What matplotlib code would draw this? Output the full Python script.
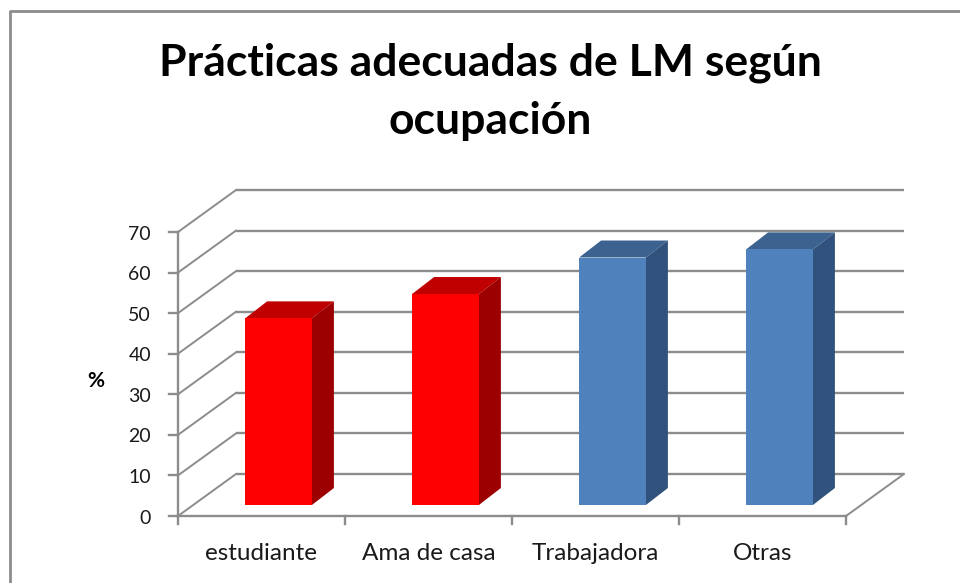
import matplotlib
matplotlib.use('Agg')
import matplotlib.pyplot as plt
from matplotlib.patches import Polygon
from matplotlib.transforms import Affine2D

categories = ['estudiante', 'Ama de casa', 'Trabajadora', 'Otras']
values = [46, 52, 61, 63]
yticks = [0, 10, 20, 30, 40, 50, 60, 70]

plt.rcParams['font.family'] = ['Lato', 'DejaVu Sans']

W, H = 960, 583
fig = plt.figure(figsize=(W / 100, H / 100), dpi=100)
# front plane of the fake 3d box, in pixels: x 178-846, y 516-232
ax = fig.add_axes([178 / W, 1 - 516 / H, (846 - 178) / W, (516 - 232) / H])
ax.set_xlim(0, 4)
ax.set_ylim(0, 70)
ax.axis('off')

# pixel offsets into the depth of the box
wall = ax.transData + Affine2D().translate(58, 42)
bar_base = ax.transData + Affine2D().translate(17, 11)
bar_back = ax.transData + Affine2D().translate(39, 28)

grey = '#8c8c8c'

# back wall grid and diagonals
for g in yticks:
    ax.plot([0, 4], [g, g], transform=wall, color=grey, lw=1.7, clip_on=False, zorder=1,
            solid_capstyle='butt')
    a = ax.transData.transform((0, g))
    b = wall.transform((0, g))
    ax.plot([a[0], b[0]], [a[1], b[1]], transform=None, color=grey, lw=1.4, clip_on=False, zorder=1)
# right edge of the floor
a = ax.transData.transform((4, 0))
b = wall.transform((4, 0))
ax.plot([a[0], b[0]], [a[1], b[1]], transform=None, color=grey, lw=1.4, clip_on=False, zorder=1)

# axes lines and ticks
ax.plot([0, 0], [0, 70], color=grey, lw=1.7, clip_on=False, zorder=2)
ax.plot([0, 4], [0, 0], color=grey, lw=1.7, clip_on=False, zorder=2)
for t in yticks:
    a = ax.transData.transform((0, t))
    ax.plot([a[0] - 9, a[0]], [a[1], a[1]], transform=None, color=grey, lw=1.7, clip_on=False, zorder=2)
for i in range(5):
    a = ax.transData.transform((i, 0))
    ax.plot([a[0], a[0]], [a[1] - 8, a[1]], transform=None, color=grey, lw=1.7, clip_on=False, zorder=2)

# bars: front, top, side
colors = ['#ff0000', '#ff0000', '#4f81bd', '#4f81bd']
tops = ['#c00000', '#c00000', '#3c6390', '#3c6390']
sides = ['#9c0000', '#9c0000', '#30527c', '#30527c']
bw = 0.4
for i, v in enumerate(values):
    x0 = i + 0.5 - bw / 2
    x1 = i + 0.5 + bw / 2
    ax.bar(i + 0.5, v, width=bw, color=colors[i], transform=bar_base, zorder=5, clip_on=False)
    p = [bar_base.transform(q) for q in [(x0, v), (x1, v)]] + [bar_back.transform(q) for q in [(x1, v), (x0, v)]]
    ax.add_patch(Polygon(p, closed=True, transform=None, facecolor=tops[i], edgecolor='none', zorder=4, clip_on=False))
    p = [bar_base.transform(q) for q in [(x1, 0), (x1, v)]] + [bar_back.transform(q) for q in [(x1, v), (x1, 0)]]
    ax.add_patch(Polygon(p, closed=True, transform=None, facecolor=sides[i], edgecolor='none', zorder=4, clip_on=False))

# tick labels
for t in yticks:
    ax.annotate(str(t), (0, t), xytext=(-27, -2), textcoords='offset pixels', ha='right', va='center',
                fontsize=14, color='#1a1a1a', annotation_clip=False)
for i, c in enumerate(categories):
    ax.annotate(c, (i + 0.5, 0), xytext=(0, -37), textcoords='offset pixels', ha='center', va='center',
                fontsize=17.5, color='#1a1a1a', annotation_clip=False)

fig.text(96 / W, 1 - 381 / H, '%', ha='center', va='center', fontsize=15, fontweight='bold', color='black')
fig.text(490 / W, 1 - 63 / H, 'Prácticas adecuadas de LM según', ha='center', va='center',
         fontsize=32, fontweight='bold', color='black')
fig.text(490 / W, 1 - 121 / H, 'ocupación', ha='center', va='center',
         fontsize=32, fontweight='bold', color='black')

# chart frame, only top and left are in the crop
fig.add_artist(plt.Line2D([9.5 / W, 9.5 / W, 1], [0, 1 - 11 / H, 1 - 11 / H], color='#8c8c8c', lw=2))

fig.savefig('out.png', dpi=100)
